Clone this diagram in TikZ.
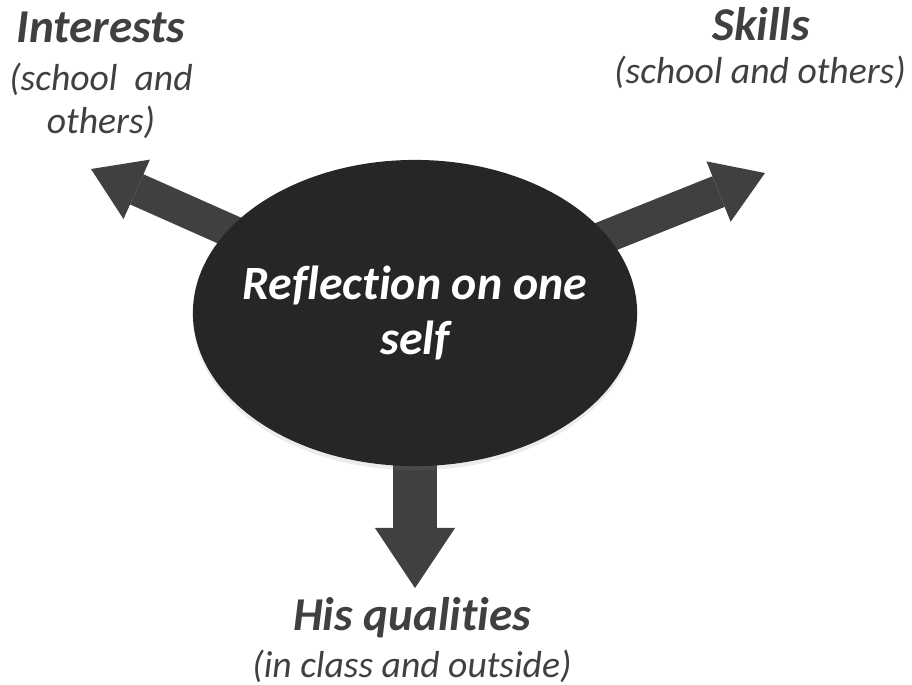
\documentclass[tikz,border=0pt]{standalone}
\usepackage{fontspec}
\setmainfont{Carlito}[Ligatures=NoCommon]
\usetikzlibrary{arrows.meta,shapes.geometric,shadows,backgrounds}
\definecolor{inkgrey}{HTML}{404040}
\definecolor{selffill}{HTML}{262626}

\begin{document}
\begin{tikzpicture}[x=0.01cm,y=-0.01cm,
	title/.style={text=inkgrey, inner sep=0pt, anchor=base,
	font=\fontsize{13.4}{15}\selectfont\bfseries\itshape},
	note/.style={text=inkgrey, inner sep=0pt, anchor=base, align=center,
	font=\fontsize{10.7}{12.2}\selectfont\itshape},
	bigarrow/.style={draw=inkgrey, line width=0.33cm,
	-{Triangle[length=0.5cm, width=0.65cm, line width=0pt]}}]
	\useasboundingbox (0,0) rectangle (912,684);
	\node[ellipse, fill=selffill, minimum width=4.44cm, minimum height=3.06cm,
	inner sep=0pt,
	drop shadow={shadow xshift=0pt, shadow yshift=-1.2pt, opacity=.15}]
	    (self) at (415,313) {};
	\node[align=center, text=white, inner sep=0pt,
	font=\fontsize{13.6}{15.9}\selectfont\bfseries\itshape]
	    (selftext) at (self.center) {Reflection on one\\self};
	\coordinate (tipL) at (91,169);
	\coordinate (tipR) at (765,173);
	\coordinate (tipD) at (415,588);
	\begin{scope}[on background layer]
	\draw[bigarrow] (self.center) -- (tipL);
	\draw[bigarrow] (self.center) -- (tipR);
	\draw[bigarrow, line width=0.43cm,
	    -{Triangle[length=0.6cm, width=0.8cm, line width=0pt]}] (self.center) -- (tipD);
	\end{scope}
	\node[title] (interests) at (101,42) {Interests};
	\node[note] (interestsnote) at (101,133) {(school\ \ and\\others)};
	\node[title] (skills) at (761,40) {Skills};
	\node[note] (skillsnote) at (760,83) {(school and others)};
	\node[title] (qualities) at (412,630) {His qualities};
	\node[note] (qualitiesnote) at (412,677) {(in class and outside)};
\end{tikzpicture}
\end{document}
